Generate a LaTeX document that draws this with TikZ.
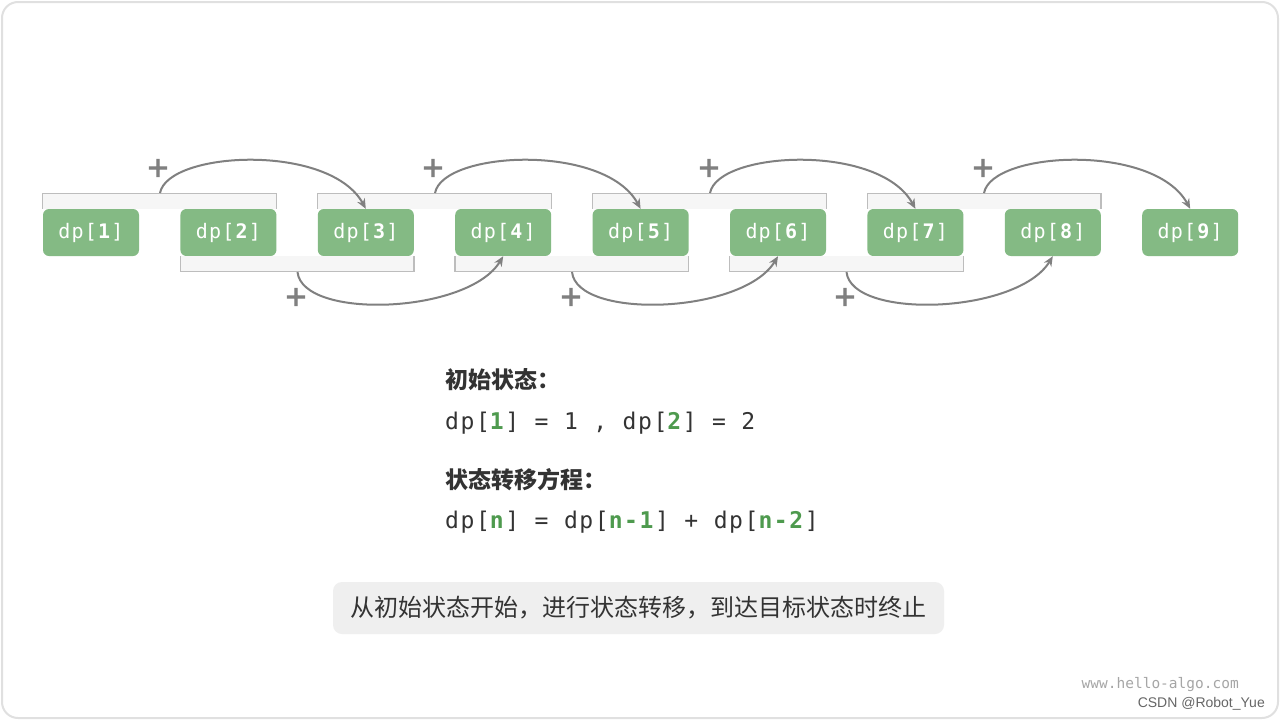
\documentclass[tikz,border=0pt]{standalone}
\usepackage{fontspec}
\setmainfont{DejaVu Sans}
\newfontfamily\cjk{Noto Sans CJK SC}
\newfontfamily\monof{DejaVu Sans Mono}
\newfontfamily\monobox{DejaVu Sans Mono}[LetterSpace=6]
\newfontfamily\monoform{DejaVu Sans Mono}[LetterSpace=7]
\newfontfamily\sansf{Liberation Sans}
\newfontfamily\plusf{DejaVu Sans}[FakeBold=3]
\usetikzlibrary{arrows.meta}
\definecolor{boxgreen}{HTML}{84BA84}
\definecolor{numgreen}{HTML}{4E9A4E}
\definecolor{txt}{HTML}{333333}
\definecolor{arcgray}{HTML}{808080}
\definecolor{brkfill}{HTML}{F6F6F6}
\definecolor{brkline}{HTML}{BDBDBD}
\definecolor{notefill}{HTML}{EFEFEF}
\tikzset{
  dpbox/.style={fill=boxgreen, rounded corners=6pt, minimum width=96pt, minimum height=47pt, inner sep=0pt, text=white, font=\monobox\fontsize{20}{24}\selectfont},
  arcline/.style={draw=arcgray, line width=2pt, -{Stealth[length=10pt,width=8.5pt]}},
  plussign/.style={text=arcgray, inner sep=0pt, font=\plusf\fontsize{28}{28}\selectfont},
  brkfillstyle/.style={fill=brkfill},
  brklinestyle/.style={draw=brkline, line width=1.2pt},
  heading/.style={anchor=west, inner sep=0pt, text=txt, font=\cjk\bfseries\fontsize{23}{28}\selectfont},
  formula/.style={anchor=west, inner sep=0pt, text=txt, font=\monoform\fontsize{23}{28}\selectfont},
  note/.style={fill=notefill, rounded corners=9pt, minimum width=611pt, minimum height=52pt, inner sep=0pt, text=txt, font=\cjk\fontsize{24}{28}\selectfont},
}
\newcommand{\gn}[1]{\textcolor{numgreen}{\textbf{#1}}}
\begin{document}
\begin{tikzpicture}[x=1pt,y=-1pt]
\useasboundingbox (0,0) rectangle (1280,720);
\draw[draw=black!12, line width=2pt, rounded corners=16pt, fill=white] (2,2) rectangle (1278,718);

% nodes
\foreach \i in {1,...,9}{
  \node[dpbox] (d\i) at ({91+(\i-1)*137.4},232.5) {dp[\textbf{\i}]};
}

% top brackets
\foreach \a/\b in {1/2,3/4,5/6,7/8}{
  \fill[brkfillstyle] ([yshift=15pt]d\a.north west) rectangle (d\b.north east);
  \draw[brklinestyle] (d\a.north west) -- ([yshift=15pt]d\a.north west) -- ([yshift=15pt]d\b.north east) -- (d\b.north east);
}
% bottom brackets
\foreach \a/\b in {2/3,4/5,6/7}{
  \fill[brkfillstyle] ([yshift=-15pt]d\a.south west) rectangle (d\b.south east);
  \draw[brklinestyle] (d\a.south west) -- ([yshift=-15pt]d\a.south west) -- ([yshift=-15pt]d\b.south east) -- (d\b.south east);
}

% top arcs
\coordinate (t1) at (160,193);
\coordinate (t2) at (435,193);
\coordinate (t3) at (710,193);
\coordinate (t4) at (984,193);
\draw[arcline] (t1) .. controls +(8,-42) and +(-36,-66) .. (d3.north);
\draw[arcline] (t2) .. controls +(8,-42) and +(-36,-66) .. (d5.north);
\draw[arcline] (t3) .. controls +(8,-42) and +(-36,-66) .. (d7.north);
\draw[arcline] (t4) .. controls +(8,-42) and +(-36,-66) .. (d9.north);

% bottom arcs
\coordinate (b1) at (297.5,272);
\coordinate (b2) at (572,272);
\coordinate (b3) at (846.5,272);
\draw[arcline] (b1) .. controls +(5,48) and +(-35,58) .. (d4.south);
\draw[arcline] (b2) .. controls +(5,48) and +(-35,58) .. (d6.south);
\draw[arcline] (b3) .. controls +(5,48) and +(-35,58) .. (d8.south);

% plus signs
\node[plussign] (p1) at (158,168) {+};
\node[plussign] (p2) at (433,168) {+};
\node[plussign] (p3) at (709,168) {+};
\node[plussign] (p4) at (983,168) {+};
\node[plussign] (p5) at (296,297) {+};
\node[plussign] (p6) at (571,297) {+};
\node[plussign] (p7) at (845,297) {+};

% text
\node[heading] (h1) at (445,380) {初始状态：};
\node[formula] (f1) at (445,423) {dp[\gn{1}] = 1 , dp[\gn{2}] = 2};
\node[heading] (h2) at (445,480) {状态转移方程：};
\node[formula] (f2) at (445,522) {dp[\gn{n}] = dp[\gn{n-1}] + dp[\gn{n-2}]};

\node[note] (nb) at (638.5,608) {从初始状态开始，进行状态转移，到达目标状态时终止};

\node[anchor=east, inner sep=0pt, text=black!35, font=\monof\fontsize{14.5}{16}\selectfont] (w1) at (1239,685) {www.hello-algo.com};
\node[anchor=east, inner sep=0pt, text=black!60, font=\sansf\fontsize{14}{16}\selectfont] (w2) at (1265,704) {CSDN @Robot\_Yue};
\end{tikzpicture}
\end{document}
